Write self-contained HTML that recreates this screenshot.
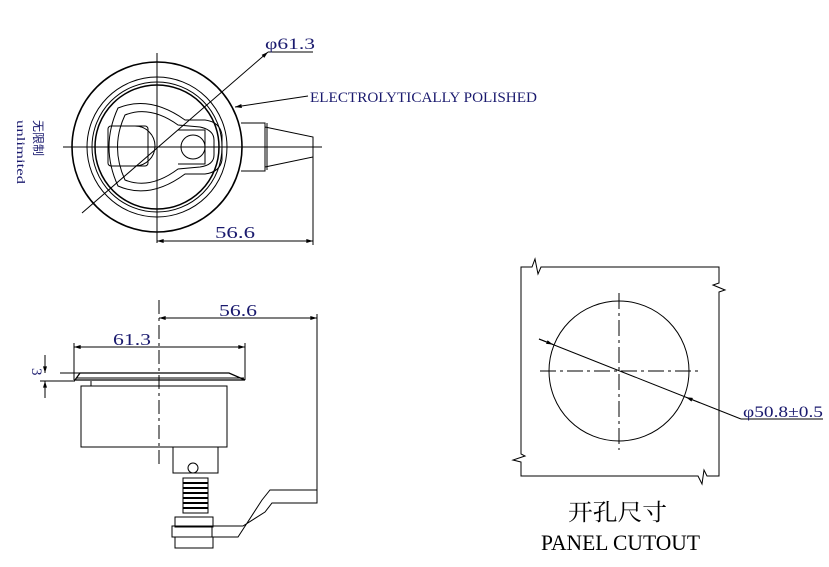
<!DOCTYPE html>
<html><head><meta charset="utf-8"><style>
html,body{margin:0;padding:0;background:#fff;}
svg{display:block;}
text{font-family:"Liberation Serif","Noto Serif CJK SC",serif;fill:#000;}
.b{fill:#1a1a6e;font-family:"Liberation Serif","Noto Sans CJK SC",serif;}
</style></head><body>
<svg width="829" height="567" viewBox="0 0 829 567" xmlns="http://www.w3.org/2000/svg">
<defs>
<marker id="a" viewBox="0 0 10 6" refX="10" refY="3" markerWidth="8" markerHeight="4" orient="auto-start-reverse"><path d="M0,0L10,3L0,6z" fill="#000"/></marker>
</defs>
<g fill="none" stroke="#000" stroke-width="1">
<circle cx="157" cy="147" r="85" stroke-width="1.6"/>
<circle cx="157" cy="147" r="70"/>
<circle cx="157" cy="147" r="65"/>
<circle cx="157" cy="147" r="62" stroke-width="1.5"/>
<path d="M118,108 Q150,95 185,120 L205,120 Q220,122 222,135 L222,160 Q220,172 205,174 L185,174 Q150,200 118,186 Q100,147 118,108z"/>
<path d="M125,115 Q150,105 178,125 L200,127 Q214,130 214,140 L214,155 Q214,165 200,167 L178,169 Q150,190 125,180 Q110,147 125,115z"/>
<rect x="108" y="126" width="40" height="40" rx="3"/>
<path d="M135,126 A20,20 0 0 1 135,166"/>
<circle cx="193" cy="147" r="12"/>
<path d="M178,130 L205,130 L205,164 L178,164"/>
<line x1="63" y1="147" x2="322" y2="147"/>
<line x1="157" y1="53" x2="157" y2="243"/>
<path d="M241,123 L265,123 L265,171 L241,171 M265,127 L313,137 L313,157 L265,167"/>
<line x1="267" y1="123" x2="267" y2="170"/>
<line x1="82" y1="213" x2="268" y2="52" marker-end="url(#a)"/>
<line x1="268" y1="52" x2="313" y2="52"/>
<line x1="235" y1="107" x2="308" y2="96" marker-start="url(#a)"/>
<line x1="157" y1="241" x2="313" y2="241" marker-start="url(#a)" marker-end="url(#a)"/>
<line x1="313" y1="147" x2="313" y2="245"/>
<line x1="159" y1="318" x2="317" y2="318" marker-start="url(#a)" marker-end="url(#a)"/>
<line x1="317" y1="314" x2="317" y2="503"/>
<line x1="74" y1="347" x2="245" y2="347" marker-start="url(#a)" marker-end="url(#a)"/>
<line x1="74" y1="343" x2="74" y2="380"/><line x1="245" y1="343" x2="245" y2="380"/>
<path d="M75,380 L80,373 L229,373 L245,380z" stroke-width="1.3"/>
<line x1="76" y1="378" x2="244" y2="378"/>
<rect x="81" y="386" width="146" height="61"/>
<line x1="91" y1="381" x2="91" y2="386"/>
<line x1="159" y1="300" x2="159" y2="467" stroke-dasharray="14,4,3,4"/>
<rect x="173" y="447" width="45" height="26"/>
<circle cx="193" cy="468" r="5"/>
<rect x="183" y="478" width="25" height="35"/>
<path d="M183,483h25M183,488h25M183,493h25M183,498h25M183,503h25M183,508h25" stroke-width="2"/>
<rect x="175" y="517" width="38" height="10"/>
<rect x="172" y="526" width="40" height="11"/>
<rect x="175" y="537" width="38" height="11"/>
<path d="M212,537 L238,537 L262,500 L270,490 L317,490 L317,503 L272,503 L265,512 L243,526 L212,526"/>
<line x1="60" y1="373" x2="80" y2="373"/><line x1="40" y1="381" x2="75" y2="381"/>
<line x1="45" y1="355" x2="45" y2="373" marker-end="url(#a)"/>
<line x1="45" y1="398" x2="45" y2="381" marker-end="url(#a)"/>
<path d="M521,267 L532,267 L535,259 L538,274 L541,267 L719,267 L719,283 L713,285 L725,290 L719,292 L719,476 L707,476 L704,470 L702,484 L698,476 L521,476 L521,462 L513,460 L525,456 L521,454 z"/>
<circle cx="619" cy="371" r="70"/>
<line x1="540" y1="371" x2="700" y2="371" stroke-dasharray="16,4,3,4"/>
<line x1="619" y1="293" x2="619" y2="450" stroke-dasharray="16,4,3,4"/>
<line x1="539" y1="339" x2="741" y2="419"/>
<line x1="539" y1="339" x2="553" y2="344.5" marker-end="url(#a)"/>
<line x1="700" y1="402.8" x2="686" y2="397.3" marker-end="url(#a)"/>
<line x1="741" y1="419" x2="823" y2="419"/>
</g>
<text x="265" y="49" class="b" font-size="16" textLength="50" lengthAdjust="spacingAndGlyphs">φ61.3</text>
<text x="310" y="102" class="b" font-size="15" textLength="227" lengthAdjust="spacingAndGlyphs">ELECTROLYTICALLY POLISHED</text>
<text x="215" y="238" class="b" font-size="17" textLength="40" lengthAdjust="spacingAndGlyphs">56.6</text>
<text x="219" y="316" class="b" font-size="17" textLength="38" lengthAdjust="spacingAndGlyphs">56.6</text>
<text x="113" y="345" class="b" font-size="17" textLength="38" lengthAdjust="spacingAndGlyphs">61.3</text>
<text x="0" y="0" class="b" font-size="15" transform="translate(32,368) rotate(90)">3</text>
<text x="0" y="0" class="b" font-size="12" transform="translate(34,120) rotate(90)">无限制</text>
<text x="0" y="0" class="b" font-size="12" transform="translate(17,120) rotate(90)" textLength="64" lengthAdjust="spacingAndGlyphs">unlimited</text>
<text x="743" y="417" class="b" font-size="16" textLength="80" lengthAdjust="spacingAndGlyphs">φ50.8±0.5</text>
<text x="568" y="520" font-size="23" textLength="99" lengthAdjust="spacingAndGlyphs">开孔尺寸</text>
<text x="541" y="550" font-size="22" textLength="159" lengthAdjust="spacingAndGlyphs">PANEL CUTOUT</text>
</svg>
</body></html>
